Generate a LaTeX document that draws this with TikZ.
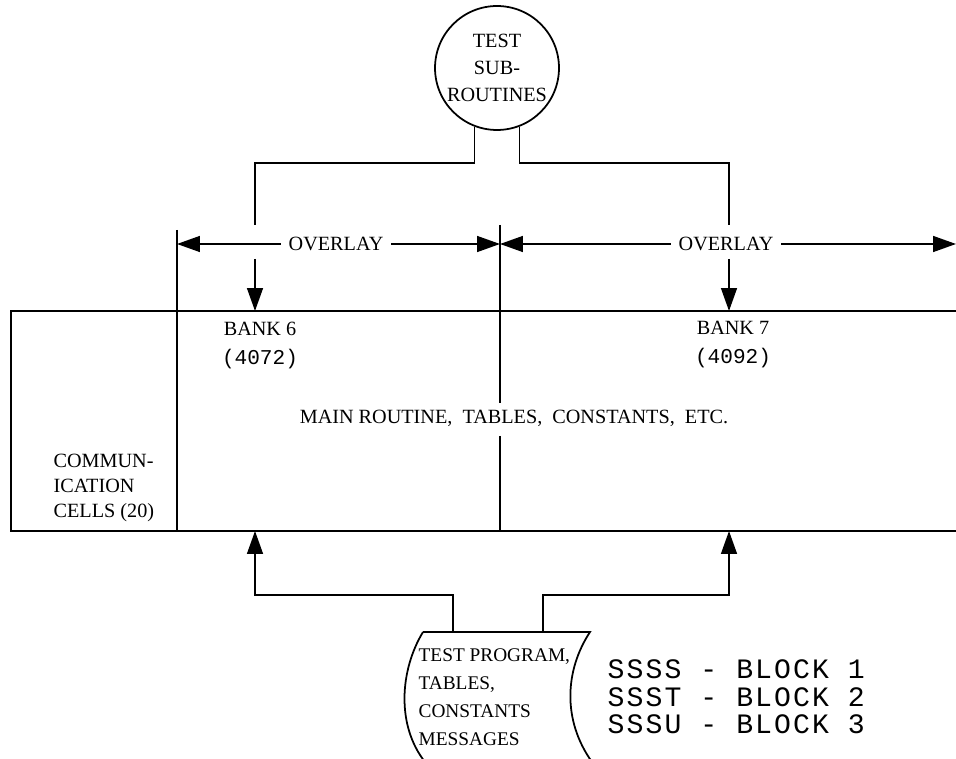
\documentclass[tikz,border=0pt]{standalone}
\usepackage{fontspec}
\setmainfont{Liberation Serif}
\newfontfamily\typefont{Liberation Mono}
\newfontfamily\blockfont[LetterSpace=7.5]{Liberation Mono}
\usetikzlibrary{positioning,arrows.meta}

\begin{document}
\begin{tikzpicture}[
        x=0.02cm, y=-0.02cm,
        line width=1pt,
        every node/.style={font=\fontsize{11.5}{14}\selectfont, inner sep=1pt},
        routine/.style={circle, draw=black, minimum size=2.48cm, align=center, inner sep=0pt, font=\fontsize{11.5}{15.5}\selectfont},
        feed/.style={-{Triangle[length=13pt, width=9pt]}},
        gapped/.style={inner xsep=4pt}
    ]
        \useasboundingbox (0,0) rectangle (956,759);

        % Test subroutines
        \node[routine] (sub) at (497,68) {TEST\\SUB-\\ROUTINES};

        % Memory box (open to the right)
        \draw (956,311) -- (11,311) -- (11,531) -- (956,531);
        \coordinate (bank6) at (255,311);
        \coordinate (bank7) at (729,311);
        \coordinate (bank6b) at (255,531);
        \coordinate (bank7b) at (729,531);
        \draw (177,230) -- (177,531);
        \draw (500,225) -- (500,403);
        \draw (500,436) -- (500,531);

        % Contents
        \node (b6) at (260,329) {BANK 6};
        \node[font=\typefont\fontsize{12}{14}\selectfont, below=4.5pt of b6] (b6size) {(4072)};
        \node (b7) at (733,328) {BANK 7};
        \node[font=\typefont\fontsize{12}{14}\selectfont, below=4.5pt of b7] (b7size) {(4092)};
        \node (main) at (514,418) {MAIN ROUTINE,\ \ TABLES,\ \ CONSTANTS,\ \ ETC.};
        \node[anchor=west, align=left] (comm) at (51,488) {COMMUN-\\ICATION\\CELLS (20)};

        % Overlay dimensions
        \node[gapped] (ovl1) at (336,244) {OVERLAY};
        \node[gapped] (ovl2) at (726,244) {OVERLAY};
        \coordinate (tick1) at (177,244);
        \coordinate (tick2) at (500,244);
        \coordinate (tick3) at (956,244);
        \draw[feed] (ovl1) -- (tick1);
        \draw[feed] (ovl1) -- (tick2);
        \draw[feed] (ovl2) -- (tick2);
        \draw[feed] (ovl2) -- (tick3);

        % Subroutines into the banks
        \coordinate (busT) at (0,163);
        \coordinate (cutT) at (0,225);
        \coordinate (cutB) at (0,259);
        \draw (sub.-111) |- (busT -| bank6) -- (cutT -| bank6);
        \draw[feed] (cutB -| bank6) -- (bank6);
        \draw (sub.-69) |- (busT -| bank7) -- (cutT -| bank7);
        \draw[feed] (cutB -| bank7) -- (bank7);

        % Test program tape
        \coordinate (tapeNW) at (423,632);
        \coordinate (tapeNE) at (590,632);
        \coordinate (tapeL) at (453,632);
        \coordinate (tapeR) at (543,632);
        \draw (tapeNW) -- (tapeNE) .. controls (565,670) and (562,720) .. (592,762);
        \draw (tapeNW) .. controls (400,670) and (396,725) .. (425,762);
        \node[anchor=west, align=left, font=\fontsize{11}{16}\selectfont] (prog) at (416,697) {TEST PROGRAM,\\TABLES,\\CONSTANTS\\MESSAGES};
        \node[anchor=west, align=left, font=\blockfont\fontsize{16}{15.6}\selectfont] (blocks) at (605,697) {SSSS - BLOCK 1\\SSST - BLOCK 2\\SSSU - BLOCK 3};

        \coordinate (busB) at (0,595);
        \draw[feed] (tapeL) |- (busB -| bank6b) -- (bank6b);
        \draw[feed] (tapeR) |- (busB -| bank7b) -- (bank7b);
    \end{tikzpicture}
\end{document}
